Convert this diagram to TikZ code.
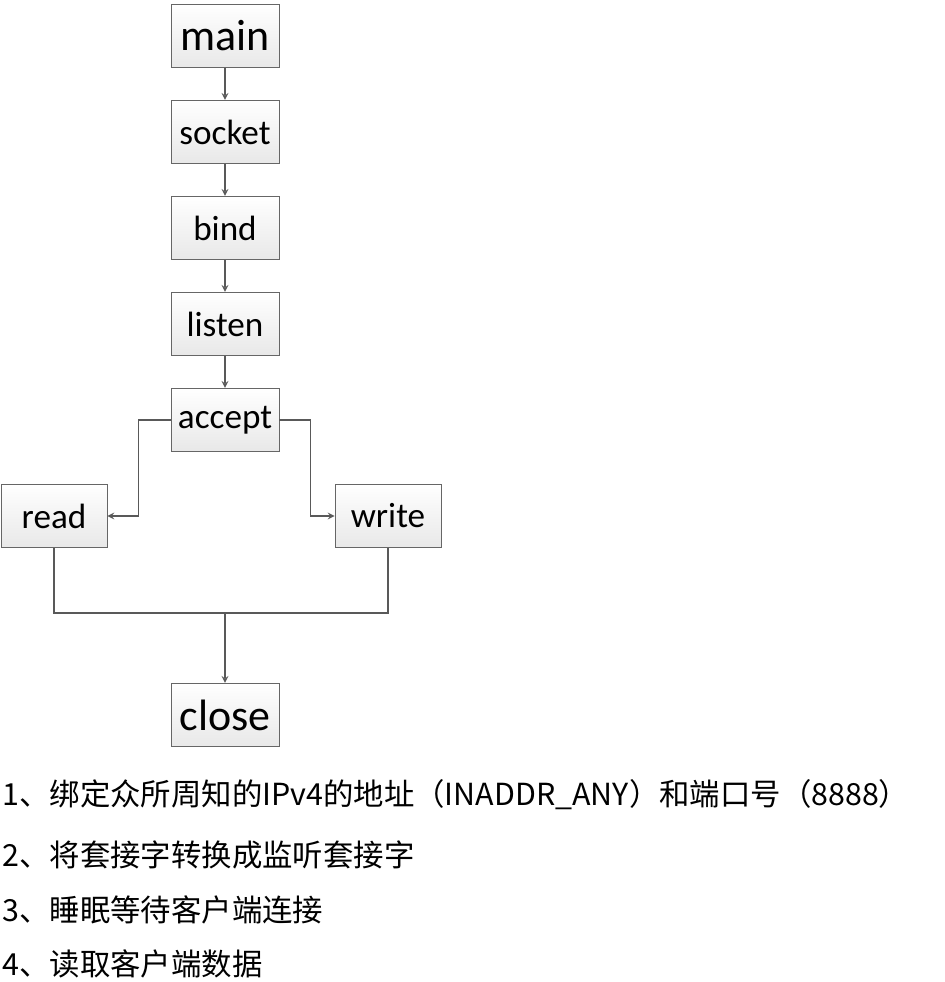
\documentclass[tikz,border=0pt]{standalone}
\usepackage{fontspec}
\setmainfont{Carlito}
\newfontfamily\cjk{Noto Sans CJK SC}
\usetikzlibrary{arrows}
\usetikzlibrary{positioning}
\tikzstyle{arrow} = [draw=black!65, line width=0.75pt, ->, >=stealth]
\tikzstyle{link} = [draw=black!65, line width=0.75pt]
\tikzstyle{call} = [rectangle, minimum width=2.16cm, minimum height=1.27cm, text centered, draw=black!60, top color=white, bottom color=black!9, font=\fontsize{20}{24}\selectfont]
\tikzstyle{bigcall} = [call, font=\fontsize{25}{30}\selectfont]
\tikzstyle{note} = [anchor=west, inner sep=0pt, font=\cjk\fontsize{17.3}{20}\selectfont]

\begin{document}
\begin{tikzpicture}[node distance=1.92cm]
    \useasboundingbox (0,0) rectangle (18.88,-19.64);

    \node (MAIN) [bigcall] at (4.5,-0.72) {main};
    \node (SOCKET) [call, below of=MAIN] {socket};
    \node (BIND) [call, below of=SOCKET] {bind};
    \node (LISTEN) [call, below of=BIND] {listen};
    \node (ACCEPT) [call, below of=LISTEN] {accept};
    \node (READ) [call, below of=ACCEPT, xshift=-3.42cm, minimum width=2.12cm] {read};
    \node (WRITE) [call, below of=ACCEPT, xshift=3.26cm, minimum width=2.12cm] {write};
    \node (CLOSE) [bigcall, below of=ACCEPT, yshift=-3.98cm] {close};
    \coordinate [above=1.4cm of CLOSE] (JOIN);

    \draw [arrow] (MAIN) -- (SOCKET);
    \draw [arrow] (SOCKET) -- (BIND);
    \draw [arrow] (BIND) -- (LISTEN);
    \draw [arrow] (LISTEN) -- (ACCEPT);
    \draw [arrow] (ACCEPT.west) -- ++(-0.64,0) |- (READ.east);
    \draw [arrow] (ACCEPT.east) -- ++(0.62,0) |- (WRITE.west);
    \draw [link] (READ.south) |- (JOIN);
    \draw [link] (WRITE.south) |- (JOIN);
    \draw [arrow] (JOIN) -- (CLOSE.north);

    \node (STEP1) [note] at (0.04,-15.9) {1、绑定众所周知的IPv4的地址（INADDR\_ANY）和端口号（8888）};
    \node (STEP2) [note] at (0.04,-17.1) {2、将套接字转换成监听套接字};
    \node (STEP3) [note] at (0.04,-18.2) {3、睡眠等待客户端连接};
    \node (STEP4) [note] at (0.04,-19.28) {4、读取客户端数据};

\end{tikzpicture}
\end{document}
